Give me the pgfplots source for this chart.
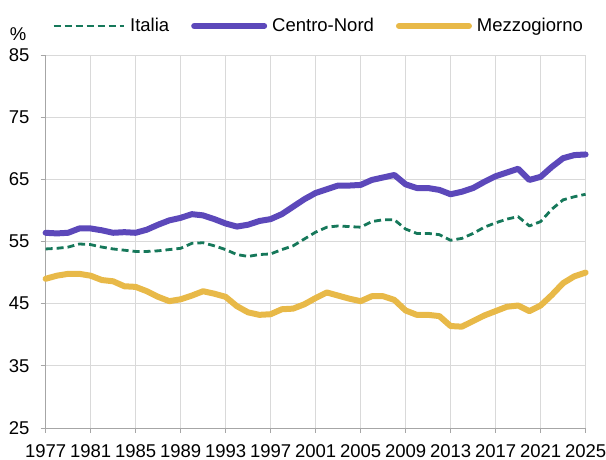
\documentclass[border=0pt]{standalone}
\usepackage{fontspec}
\setmainfont{Liberation Sans}
\usepackage{pgfplots}
\usepackage{pgfplotstable}
\pgfplotsset{compat=1.18}
\definecolor{ita}{RGB}{22,120,90}
\definecolor{cn}{RGB}{92,72,186}
\definecolor{mez}{RGB}{232,185,72}
\definecolor{gridc}{RGB}{217,217,217}
\definecolor{axc}{RGB}{166,166,166}

\pgfplotstableread{
year ita cn mez
1977 53.8 56.4 49.0
1978 53.9 56.3 49.5
1979 54.1 56.4 49.8
1980 54.6 57.1 49.8
1981 54.5 57.1 49.5
1982 54.1 56.8 48.8
1983 53.8 56.4 48.6
1984 53.6 56.5 47.8
1985 53.4 56.4 47.7
1986 53.4 56.9 47.0
1987 53.5 57.7 46.1
1988 53.7 58.4 45.4
1989 53.9 58.8 45.7
1990 54.7 59.4 46.3
1991 54.8 59.2 47.0
1992 54.3 58.6 46.6
1993 53.7 57.9 46.1
1994 52.9 57.4 44.6
1995 52.6 57.7 43.6
1996 52.9 58.3 43.2
1997 53.0 58.6 43.3
1998 53.7 59.4 44.1
1999 54.3 60.6 44.2
2000 55.4 61.8 44.9
2001 56.5 62.8 45.9
2002 57.3 63.4 46.8
2003 57.5 64.0 46.3
2004 57.4 64.0 45.8
2005 57.3 64.1 45.4
2006 58.2 64.9 46.2
2007 58.5 65.3 46.2
2008 58.5 65.7 45.6
2009 57.0 64.2 43.9
2010 56.3 63.6 43.2
2011 56.3 63.6 43.2
2012 56.1 63.3 43.0
2013 55.2 62.6 41.4
2014 55.5 63.0 41.3
2015 56.3 63.6 42.2
2016 57.3 64.6 43.1
2017 58.0 65.5 43.8
2018 58.6 66.1 44.5
2019 59.0 66.7 44.7
2020 57.5 64.9 43.8
2021 58.2 65.4 44.7
2022 60.2 67.0 46.4
2023 61.7 68.4 48.3
2024 62.2 68.9 49.4
2025 62.6 69.0 50.0
}\data

\begin{document}
\begin{tikzpicture}
\begin{axis}[
    name=ax,
    scale only axis,
    width=540pt, height=373pt,
    xmin=1977, xmax=2025,
    ymin=25, ymax=85,
    xtick={1977,1981,...,2025},
    ytick={25,35,...,85},
    axis lines=left,
    axis line style={-, axc, line width=0.8pt},
    tick style={axc, line width=0.8pt},
    tick align=outside,
    major tick length=5pt,
    grid=major,
    major grid style={gridc, line width=0.8pt},
    tick label style={font=\fontsize{18.5}{22}\selectfont},
    yticklabel style={inner sep=1pt, xshift=-10pt},
    xticklabel style={yshift=-8pt},
    /pgf/number format/assume math mode=true,
    /pgf/number format/1000 sep={},
    clip=false,
    legend columns=3,
    legend style={at={(0.5,1)}, anchor=center, xshift=3pt, yshift=29pt, draw=none, fill=none,
        font=\fontsize{18.5}{22}\selectfont,
        /tikz/every odd column/.append style={column sep=3pt},
        /tikz/every even column/.append style={column sep=20pt}},
    legend image code/.code={\draw[#1] (0pt,0pt) -- (70pt,0pt);},
]
\addplot[ita, line width=2.8pt, dash pattern=on 7pt off 4pt, line join=round] table[x=year, y=ita] {\data};
\addlegendentry{Italia}
\addplot[cn, line width=6pt, line join=round, line cap=round] table[x=year, y=cn] {\data};
\addlegendentry{Centro-Nord}
\addplot[mez, line width=6pt, line join=round, line cap=round] table[x=year, y=mez] {\data};
\addlegendentry{Mezzogiorno}
\end{axis}
\node[anchor=base west, inner sep=0pt, font=\fontsize{18.5}{22}\selectfont] at ([xshift=-36pt,yshift=14pt]ax.north west) {\%};
\pgfresetboundingbox
\path ([xshift=-45.6pt,yshift=-32pt]ax.south west) rectangle ([xshift=560.4pt,yshift=428pt]ax.south west);
\end{tikzpicture}
\end{document}
